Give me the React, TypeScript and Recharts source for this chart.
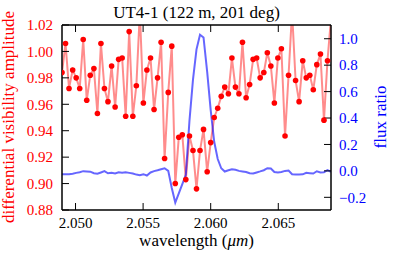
import { ComposedChart, Line, XAxis, YAxis } from 'recharts';

const wavelength = [
  2.049, 2.04926, 2.04952, 2.04979, 2.05005, 2.05031, 2.05057, 2.05083, 2.05109, 2.05136,
  2.05162, 2.05188, 2.05214, 2.0524, 2.05267, 2.05293, 2.05319, 2.05345, 2.05371, 2.05397,
  2.05424, 2.0545, 2.05476, 2.05502, 2.05528, 2.05555, 2.05581, 2.05607, 2.05633, 2.05659,
  2.05686, 2.05712, 2.05738, 2.05764, 2.0579, 2.05816, 2.05843, 2.05869, 2.05895, 2.05921,
  2.05947, 2.05974, 2.06, 2.06026, 2.06052, 2.06078, 2.06104, 2.06131, 2.06157, 2.06183,
  2.06209, 2.06235, 2.06262, 2.06288, 2.06314, 2.0634, 2.06366, 2.06393, 2.06419, 2.06445,
  2.06471, 2.06497, 2.06523, 2.0655, 2.06576, 2.06602, 2.06628, 2.06654, 2.06681, 2.06707,
  2.06733, 2.06759, 2.06785, 2.06812, 2.06838, 2.06864, 2.0689,
];

const visAmp = [
  0.984, 1.006, 0.972, 0.986, 0.98, 0.972, 1.009, 0.963, 0.982, 0.987,
  0.953, 1.006, 0.972, 0.962, 0.989, 0.958, 0.994, 0.995, 0.951, 1.015,
  0.951, 0.974, 1.03, 0.961, 0.986, 0.995, 0.956, 0.98, 1.007, 0.919,
  0.969, 1.004, 0.9, 0.935, 0.937, 0.903, 0.936, 0.925, 0.896, 0.925,
  0.941, 0.909, 0.931, 0.95, 0.957, 0.966, 0.973, 0.968, 0.995, 0.973,
  0.968, 1.007, 0.965, 0.975, 0.994, 0.995, 0.98, 0.984, 0.999, 0.989,
  0.961, 0.995, 1.002, 0.936, 0.982, 1.03, 0.978, 0.962, 0.993, 0.98,
  0.982, 0.971, 0.99, 0.998, 0.948, 0.993, 1.025,
];

const fluxRatio = [
  -0.025, -0.025, -0.025, -0.022, -0.015, -0.01, -0.002, -0.004, -0.006, -0.018,
  -0.022, -0.012, -0.002, -0.018, -0.014, -0.02, -0.01, -0.014, -0.01, -0.015,
  -0.02, -0.028, -0.033, -0.025, -0.035, -0.012, -0.002, 0.005, 0.013, 0.02,
  0.0, -0.13, -0.24, -0.17, -0.1, -0.03, 0.38, 0.69, 0.92, 1.03,
  1.01, 0.75, 0.46, 0.22, 0.09, 0.02, -0.005, 0.005, 0.013, 0.008,
  0.0, -0.004, -0.008, -0.018, -0.02, -0.012, -0.004, 0.005, 0.02, 0.018,
  -0.008, -0.012, -0.008, 0.0, 0.003, -0.025, -0.027, -0.028, -0.026, -0.015,
  -0.017, -0.02, -0.003, -0.012, -0.01, 0.005, -0.008,
];

const xTicks = [2.05, 2.055, 2.06, 2.065];
const visTicks = [0.88, 0.9, 0.92, 0.94, 0.96, 0.98, 1.0, 1.02];
const fluxTicks = [-0.2, 0.0, 0.2, 0.4, 0.6, 0.8, 1.0];

const data = wavelength.map((w, i) => ({ w, vis: visAmp[i], flux: fluxRatio[i] }));

const FONT = '"Liberation Serif", "Times New Roman", serif';
const W = 415;
const H = 256;

const fmtFlux = (v: number) => (v < 0 ? '\u2212' + Math.abs(v).toFixed(1) : v.toFixed(1));

export default function App() {
  return (
    <div style={{ position: 'absolute', left: 0, top: 0, width: W, height: H, background: '#fff' }}>
      <ComposedChart
        width={W}
        height={H}
        data={data}
        margin={{ top: 24, right: 0, bottom: 16, left: 0 }}
      >
        <XAxis
          dataKey="w"
          type="number"
          domain={[2.049, 2.0689]}
          allowDataOverflow
          ticks={xTicks}
          tickFormatter={(v: number) => v.toFixed(3)}
          height={30}
          tickSize={-7}
          tickMargin={14}
          axisLine={{ stroke: '#000', strokeWidth: 1.5 }}
          tickLine={{ stroke: '#000' }}
          tick={{ fill: '#000', fontSize: 15, fontFamily: FONT }}
          interval={0}
        />
        <XAxis
          xAxisId="top"
          dataKey="w"
          type="number"
          orientation="top"
          domain={[2.049, 2.0689]}
          allowDataOverflow
          ticks={xTicks}
          tickFormatter={() => ''}
          height={1}
          tickSize={-7}
          axisLine={{ stroke: '#000', strokeWidth: 1.5 }}
          tickLine={{ stroke: '#000' }}
          interval={0}
        />
        <YAxis
          yAxisId="left"
          domain={[0.88, 1.02]}
          allowDataOverflow
          ticks={visTicks}
          tickFormatter={(v: number) => v.toFixed(2)}
          width={62}
          tickSize={-7}
          tickMargin={16}
          axisLine={{ stroke: '#000', strokeWidth: 1.5 }}
          tickLine={{ stroke: '#000' }}
          tick={{ fill: '#ff0000', fontSize: 15, fontFamily: FONT }}
          interval={0}
        />
        <YAxis
          yAxisId="right"
          orientation="right"
          domain={[-0.296, 1.104]}
          allowDataOverflow
          ticks={fluxTicks}
          tickFormatter={fmtFlux}
          width={84}
          tickSize={-7}
          tickMargin={15}
          axisLine={{ stroke: '#000', strokeWidth: 1.5 }}
          tickLine={{ stroke: '#000' }}
          tick={{ fill: '#0000ff', fontSize: 15, fontFamily: FONT }}
          interval={0}
        />
        <Line
          yAxisId="left"
          dataKey="vis"
          type="linear"
          stroke="rgba(255,0,0,0.45)"
          strokeWidth={2}
          dot={{ r: 2.8, fill: '#ff0000', stroke: 'none' }}
          activeDot={false}
          isAnimationActive={false}
        />
        <Line
          yAxisId="right"
          dataKey="flux"
          type="linear"
          stroke="rgba(0,0,255,0.6)"
          strokeWidth={2}
          dot={false}
          activeDot={false}
          isAnimationActive={false}
        />
      </ComposedChart>
      <svg
        width={W}
        height={H}
        style={{ position: 'absolute', left: 0, top: 0, pointerEvents: 'none' }}
        fontFamily={FONT}
      >
        <text x={196.5} y={18} textAnchor="middle" fontSize={17} fill="#000">
          UT4-1 (122 m, 201 deg)
        </text>
        <text x={196.5} y={246} textAnchor="middle" fontSize={17} fill="#000">
          wavelength (<tspan fontStyle="italic">μm</tspan>)
        </text>
        <text
          transform="translate(14,117) rotate(-90)"
          textAnchor="middle"
          fontSize={17}
          fill="#ff0000"
        >
          differential visibility amplitude
        </text>
        <text
          transform="translate(386,117) rotate(-90)"
          textAnchor="middle"
          fontSize={17}
          fill="#0000ff"
        >
          flux ratio
        </text>
      </svg>
    </div>
  );
}
